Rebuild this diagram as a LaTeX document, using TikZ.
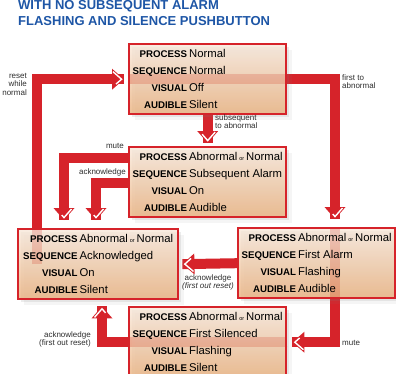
\documentclass[tikz,border=0pt]{standalone}
\usepackage{fontspec}
\usepackage{array}
\setmainfont{Liberation Sans}
\usetikzlibrary{shadows,decorations.markings}
\definecolor{alarmred}{RGB}{214,35,42}
\definecolor{titleblue}{RGB}{30,86,166}
\definecolor{paneltop}{RGB}{248,232,218}
\definecolor{panelbot}{RGB}{234,176,124}
\definecolor{notegray}{RGB}{45,45,45}
\pgfdeclarelayer{back}
\pgfsetlayers{back,main}
\newcommand{\orword}{\,{\fontsize{5.5}{6}\selectfont or}\,}
\newcommand{\panel}[4]{\makebox[150pt][l]{\begin{tabular}{@{}>{\fontsize{9.7}{17}\bfseries}r@{\hspace{2pt}}l@{}}
PROCESS & #1\\
SEQUENCE & #2\\
VISUAL & #3\\
AUDIBLE & #4
\end{tabular}}}
\tikzset{
  panelbox/.style={draw=alarmred, line width=2.4pt, top color=paneltop, bottom color=panelbot,
    fill opacity=.8, text opacity=1, anchor=north west, minimum width=157pt, minimum height=70pt,
    inner xsep=3.5pt, inner ysep=0pt, font=\fontsize{11.3}{17}\selectfont,
    drop shadow={shadow xshift=3pt, shadow yshift=-3pt, opacity=.15},
    drop shadow={shadow xshift=6pt, shadow yshift=-6pt, opacity=.08}},
  flow/.style={draw=alarmred, line width=10pt},
  into/.style={flow, shorten >=#1, postaction={decorate, decoration={markings,
    mark=at position -#1 with {
      \fill[alarmred] (-12pt,10.5pt) -- (0pt,0pt) -- (-12pt,-10.5pt) -- cycle;
      \draw[white, line width=1.4pt] (-11pt,7.5pt) -- (-2.4pt,0pt) -- (-11pt,-7.5pt);}}}},
  note/.style={font=\fontsize{8}{8.5}\selectfont, text=notegray, inner sep=0pt},
  titletext/.style={font=\fontsize{13}{16}\selectfont\bfseries, text=titleblue, inner sep=0pt, anchor=base west}
}
\begin{document}
\begin{tikzpicture}[x=1pt, y=1pt]
\useasboundingbox (0,0) rectangle (396,-373);
\node[titletext] (titleA) at (18,-9.5) {WITH NO SUBSEQUENT ALARM};
\node[titletext] (titleB) at (18,-25.5) {FLASHING AND SILENCE PUSHBUTTON};

\node[panelbox] (normal) at (128,-43) {\panel{Normal}{Normal}{Off}{Silent}};
\node[panelbox] (subseq) at (128,-146) {\panel{Abnormal\orword Normal}{Subsequent Alarm}{On}{Audible}};
\node[panelbox, minimum width=160pt] (acked) at (17,-228) {\panel{Abnormal\orword Normal}{Acknowledged}{On}{Silent}};
\node[panelbox] (firstal) at (237,-227) {\panel{Abnormal\orword Normal}{First Alarm}{Flashing}{Audible}};
\node[panelbox] (silenced) at (128,-306) {\panel{Abnormal\orword Normal}{First Silenced}{Flashing}{Silent}};

\begin{pgfonlayer}{back}
\draw[into=4pt] ([xshift=20pt]acked.west) |- (normal.west);
\draw[into=8pt] (normal.west) -| ([xshift=98pt]firstal.north west);
\draw[into=3pt] (normal.south) -- (subseq.north);
\draw[into=8pt] ([yshift=-12pt]subseq.north west) -| ([xshift=47pt]acked.north west);
\draw[into=8pt] ([yshift=-37pt]subseq.north west) -| ([xshift=79pt]acked.north west);
\draw[into=3pt] (firstal.west) -- (acked.east);
\draw[into=5pt] ([xshift=98pt]firstal.north west) |- (silenced.east);
\draw[into=6pt] (silenced.east) -| ([xshift=85pt]acked.south west);
\end{pgfonlayer}

\node[note, anchor=north east, align=right] (resetnote) at (27,-73) {reset\\while\\normal};
\node[note, anchor=north west, align=left] (firstnote) at (342,-74) {first to\\abnormal};
\node[note, anchor=north west, align=left] (subnote) at (215,-114) {subsequent\\to abnormal};
\node[note, anchor=base east] (mutenoteA) at (124,-148.5) {mute};
\node[note, anchor=base east] (acknoteA) at (126,-174) {acknowledge};
\node[note, anchor=north, align=center] (acknoteB) at (208,-274) {acknowledge\\\textit{(first out reset)}};
\node[note, anchor=north east, align=right] (acknoteC) at (91,-331) {acknowledge\\(first out reset)};
\node[note, anchor=base west] (mutenoteB) at (342,-345) {mute};
\end{tikzpicture}
\end{document}
